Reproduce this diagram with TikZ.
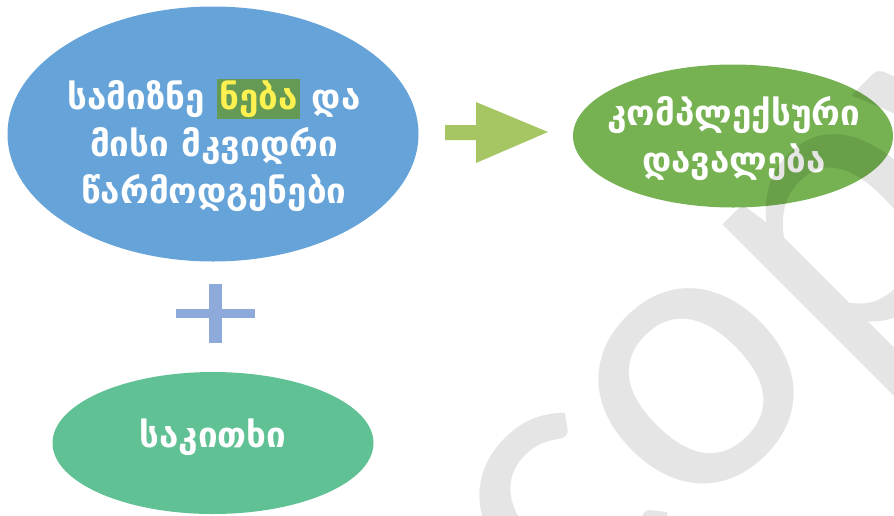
\documentclass[tikz,border=0pt]{standalone}
\usepackage{fontspec}
\setmainfont{DejaVu Sans}
\newfontfamily\markfont{Carlito}
\usetikzlibrary{shapes.geometric}
\definecolor{targetblue}{RGB}{101,163,216}
\definecolor{taskgreen}{RGB}{119,178,82}
\definecolor{issuegreen}{RGB}{96,193,149}
\definecolor{arrowgreen}{RGB}{165,198,98}
\definecolor{plusblue}{RGB}{142,170,219}
\definecolor{hlgreen}{RGB}{101,154,85}
\definecolor{hlyellow}{RGB}{255,241,80}
\newcommand{\hlword}[1]{{\setlength{\fboxsep}{2pt}\colorbox{hlgreen}{\color{hlyellow}\vphantom{ბყ}#1}}}

\begin{document}
\begin{tikzpicture}[x=1pt,y=-1pt,
	blob/.style={ellipse, inner sep=0pt},
	caption/.style={inner sep=0pt, text=white, align=center, font=\bfseries\fontsize{35}{47}\selectfont}]
	\useasboundingbox (0,0) rectangle (894,515);
	\clip (0,0) rectangle (894,515);
	\node[blob, fill=targetblue, minimum width=411pt, minimum height=255pt] (target) at (213,134) {};
	\node[blob, fill=taskgreen, minimum width=320pt, minimum height=143pt] (task) at (733,136) {};
	\node[blob, fill=issuegreen, minimum width=321pt, minimum height=142pt] (issue) at (213,443) {};
	\node[caption] (targettext) at (214,145) {სამიზნე \hlword{ნება} და\\მისი მკვიდრი\\წარმოდგენები};
	\node[caption] (tasktext) at (734,139) {კომპლექსური\\დავალება};
	\node[caption] (issuetext) at (213,437) {საკითხი};
	\fill[arrowgreen] (445,125) -- (476,125) -- (476,102) -- (548,132) -- (476,163) -- (476,140) -- (445,140) -- cycle;
	\fill[plusblue] (176,309) rectangle (255,318);
	\fill[plusblue] (209,284) rectangle (222,343);
	\node[rotate=45, anchor=base west, inner sep=0pt, text=black, text opacity=0.1, font=\markfont\fontsize{400}{400}\selectfont] (watermark) at (572,646) {copy};
\end{tikzpicture}
\end{document}
